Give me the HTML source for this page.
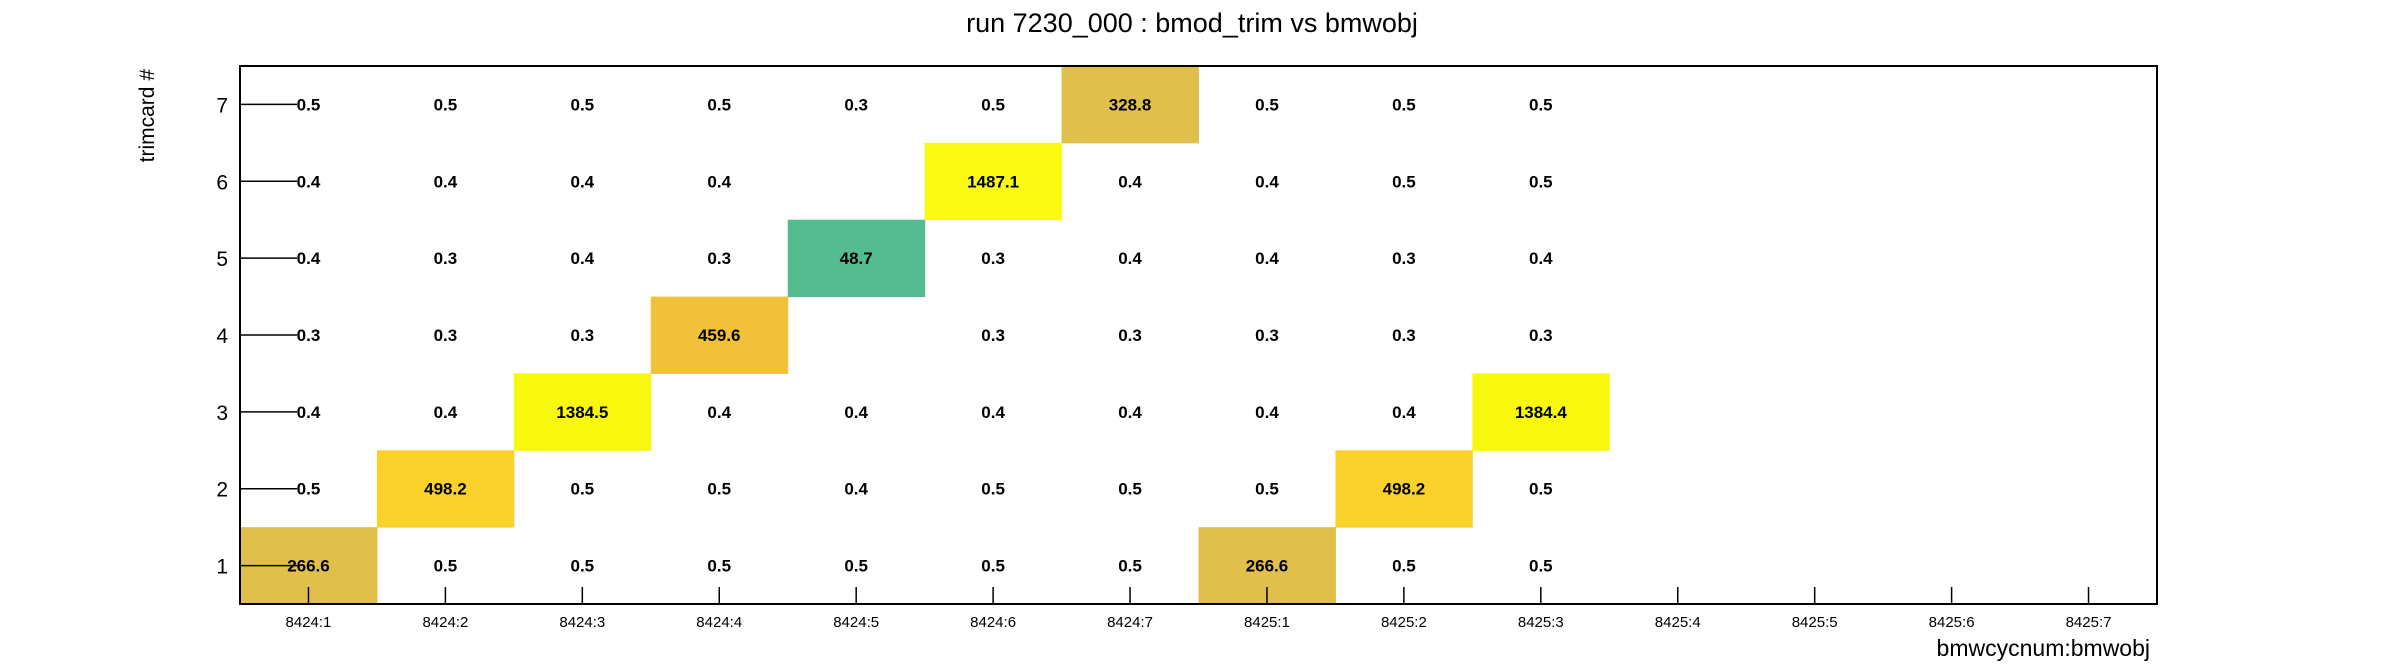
<!DOCTYPE html>
<html><head><meta charset="utf-8"><style>
body{margin:0;background:#fff;}
svg{display:block;font-family:"Liberation Sans",sans-serif;}
</style></head><body>
<svg id="chart" width="2396" height="672" viewBox="0 0 2396 672">
<text x="1192" y="32" font-size="27" text-anchor="middle">run 7230_000 : bmod_trim vs bmwobj</text>
<text transform="translate(154,69) rotate(-90)" font-size="21" text-anchor="end">trimcard #</text>
<text x="2150" y="656" font-size="23" text-anchor="end">bmwcycnum:bmwobj</text>
<g id="cells"></g>
<g id="axes"></g>
<rect x="240" y="66" width="1917" height="538" fill="none" stroke="#000" stroke-width="2"/>
</svg>
<script>
const xLabels=["8424:1","8424:2","8424:3","8424:4","8424:5","8424:6","8424:7","8425:1","8425:2","8425:3","8425:4","8425:5","8425:6","8425:7"];
const yLabels=["1","2","3","4","5","6","7"];
const row1=[266.6,0.5,0.5,0.5,0.5,0.5,0.5,266.6,0.5,0.5];
const row2=[0.5,498.2,0.5,0.5,0.4,0.5,0.5,0.5,498.2,0.5];
const row3=[0.4,0.4,1384.5,0.4,0.4,0.4,0.4,0.4,0.4,1384.4];
const row4=[0.3,0.3,0.3,459.6,null,0.3,0.3,0.3,0.3,0.3];
const row5=[0.4,0.3,0.4,0.3,48.7,0.3,0.4,0.4,0.3,0.4];
const row6=[0.4,0.4,0.4,0.4,null,1487.1,0.4,0.4,0.5,0.5];
const row7=[0.5,0.5,0.5,0.5,0.3,0.5,328.8,0.5,0.5,0.5];
const rows=[row1,row2,row3,row4,row5,row6,row7];
const colorStops=[[48.7,[85,187,144]],[266.6,[224,192,74]],[328.8,[225,191,76]],[459.6,[242,193,58]],[498.2,[251,210,44]],[1384.5,[248,248,15]],[1487.1,[249,249,17]]];
const PL=240,PT=66,PW=1917,PH=538;
const cw=PW/xLabels.length,ch=PH/yLabels.length;
const xPos=i=>PL+i*cw;
const yPos=j=>PT+PH-(j+1)*ch;
function color(v){
  if(v<1)return null;
  if(v<=colorStops[0][0])return colorStops[0][1];
  for(let k=1;k<colorStops.length;k++){
    if(v<=colorStops[k][0]){
      const a=colorStops[k-1],b=colorStops[k],t=(v-a[0])/(b[0]-a[0]);
      return a[1].map((c,i)=>Math.round(c+(b[1][i]-c)*t));
    }
  }
  return colorStops[colorStops.length-1][1];
}
const NS="http://www.w3.org/2000/svg";
const cells=document.getElementById('cells'),axes=document.getElementById('axes');
rows.forEach((r,j)=>{r.forEach((v,i)=>{
  if(v===null)return;
  const c=color(v);
  if(c){
    const rect=document.createElementNS(NS,'rect');
    rect.setAttribute('x',xPos(i));rect.setAttribute('y',yPos(j));
    rect.setAttribute('width',cw+0.5);rect.setAttribute('height',ch+0.5);
    rect.setAttribute('fill','rgb('+c.join(',')+')');
    
    
    cells.appendChild(rect);
  }
  const t=document.createElementNS(NS,'text');
  t.setAttribute('x',xPos(i)+cw/2);t.setAttribute('y',yPos(j)+ch/2+6);
  t.setAttribute('text-anchor','middle');t.setAttribute('font-size','17');t.setAttribute('font-weight','bold');
  t.textContent=v.toFixed(1);
  
  
  cells.appendChild(t);
});});
xLabels.forEach((l,i)=>{
  const x=xPos(i)+cw/2;
  const ln=document.createElementNS(NS,'line');
  ln.setAttribute('x1',x);ln.setAttribute('x2',x);ln.setAttribute('y1',PT+PH);ln.setAttribute('y2',PT+PH-17);ln.setAttribute('stroke','#000');ln.setAttribute('stroke-width','1.5');
  
  
  axes.appendChild(ln);
  const t=document.createElementNS(NS,'text');
  t.setAttribute('x',x);t.setAttribute('y',627);t.setAttribute('text-anchor','middle');t.setAttribute('font-size','15');
  t.textContent=l;
  
  
  axes.appendChild(t);
});
yLabels.forEach((l,j)=>{
  const y=yPos(j)+ch/2;
  const ln=document.createElementNS(NS,'line');
  ln.setAttribute('x1',PL);ln.setAttribute('x2',PL+57);ln.setAttribute('y1',y);ln.setAttribute('y2',y);ln.setAttribute('stroke','#000');ln.setAttribute('stroke-width','1.5');
  
  
  axes.appendChild(ln);
  const t=document.createElementNS(NS,'text');
  t.setAttribute('x',228);t.setAttribute('y',y+8);t.setAttribute('text-anchor','end');t.setAttribute('font-size','21');
  t.textContent=l;
  
  
  axes.appendChild(t);
});
</script>
</body></html>
